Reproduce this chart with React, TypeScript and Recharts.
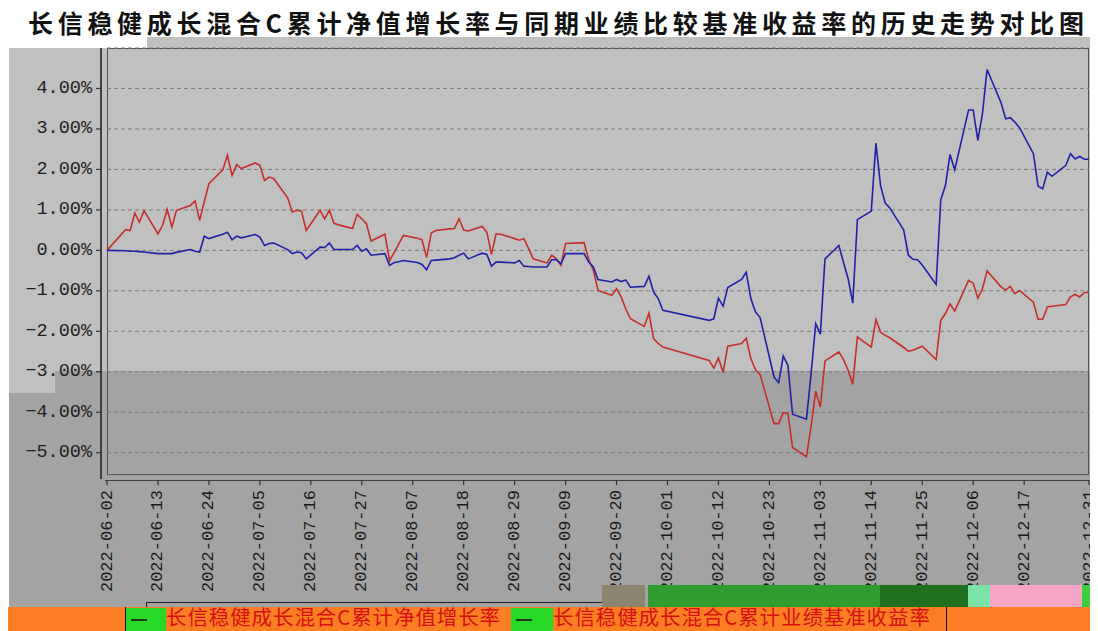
import React from 'react';
import { LineChart, Line, XAxis, YAxis, CartesianGrid } from 'recharts';

const chartTitle = '长信稳健成长混合C累计净值增长率与同期业绩比较基准收益率的历史走势对比图';
const seriesNames = ['长信稳健成长混合C累计净值增长率', '长信稳健成长混合C累计业绩基准收益率'];

const dates = [
  '2022-06-02', '2022-06-06', '2022-06-07', '2022-06-08', '2022-06-09', '2022-06-10',
  '2022-06-13', '2022-06-14', '2022-06-15', '2022-06-16', '2022-06-17',
  '2022-06-20', '2022-06-21', '2022-06-22', '2022-06-23', '2022-06-24',
  '2022-06-27', '2022-06-28', '2022-06-29', '2022-06-30', '2022-07-01',
  '2022-07-04', '2022-07-05', '2022-07-06', '2022-07-07', '2022-07-08',
  '2022-07-11', '2022-07-12', '2022-07-13', '2022-07-14', '2022-07-15',
  '2022-07-18', '2022-07-19', '2022-07-20', '2022-07-21', '2022-07-22',
  '2022-07-25', '2022-07-26', '2022-07-27', '2022-07-28', '2022-07-29',
  '2022-08-01', '2022-08-02', '2022-08-03', '2022-08-04', '2022-08-05',
  '2022-08-08', '2022-08-09', '2022-08-10', '2022-08-11', '2022-08-12',
  '2022-08-15', '2022-08-16', '2022-08-17', '2022-08-18', '2022-08-19',
  '2022-08-22', '2022-08-23', '2022-08-24', '2022-08-25', '2022-08-26',
  '2022-08-29', '2022-08-30', '2022-08-31', '2022-09-01', '2022-09-02',
  '2022-09-05', '2022-09-06', '2022-09-07', '2022-09-08', '2022-09-09',
  '2022-09-13', '2022-09-14', '2022-09-15', '2022-09-16',
  '2022-09-19', '2022-09-20', '2022-09-21', '2022-09-22', '2022-09-23',
  '2022-09-26', '2022-09-27', '2022-09-28', '2022-09-29', '2022-09-30',
  '2022-10-10', '2022-10-11', '2022-10-12', '2022-10-13', '2022-10-14',
  '2022-10-17', '2022-10-18', '2022-10-19', '2022-10-20', '2022-10-21',
  '2022-10-24', '2022-10-25', '2022-10-26', '2022-10-27', '2022-10-28',
  '2022-10-31', '2022-11-01', '2022-11-02', '2022-11-03', '2022-11-04',
  '2022-11-07', '2022-11-08', '2022-11-09', '2022-11-10', '2022-11-11',
  '2022-11-14', '2022-11-15', '2022-11-16', '2022-11-17', '2022-11-18',
  '2022-11-21', '2022-11-22', '2022-11-23', '2022-11-24', '2022-11-25',
  '2022-11-28', '2022-11-29', '2022-11-30', '2022-12-01', '2022-12-02',
  '2022-12-05', '2022-12-06', '2022-12-07', '2022-12-08', '2022-12-09',
  '2022-12-12', '2022-12-13', '2022-12-14', '2022-12-15', '2022-12-16',
  '2022-12-19', '2022-12-20', '2022-12-21', '2022-12-22', '2022-12-23',
  '2022-12-26', '2022-12-27', '2022-12-28', '2022-12-29', '2022-12-30',
  '2022-12-31',
];

// 累计净值增长率 (%)
const navGrowth = [
  0, -0.01, -0.02, -0.02, -0.03, -0.04,
  -0.08, -0.08, -0.08, -0.08, -0.05,
  0.02, -0.02, -0.04, 0.35, 0.29,
  0.40, 0.45, 0.26, 0.35, 0.31,
  0.39, 0.33, 0.12, 0.17, 0.18,
  0.02, -0.08, -0.04, -0.06, -0.21,
  0.08, 0.07, 0.18, 0.02, 0.02,
  0.02, 0.12, -0.02, 0.04, -0.12,
  -0.08, -0.37, -0.30, -0.28, -0.25,
  -0.30, -0.35, -0.48, -0.25, -0.24,
  -0.21, -0.18, -0.12, -0.07, -0.21,
  -0.07, -0.10, -0.39, -0.29, -0.29,
  -0.31, -0.25, -0.39, -0.40, -0.41,
  -0.41, -0.23, -0.23, -0.33, -0.08,
  -0.08, -0.29, -0.41, -0.72,
  -0.78, -0.72, -0.77, -0.73, -0.91,
  -0.89, -0.64, -1.03, -1.19, -1.48,
  -1.73, -1.69, -1.18, -1.38, -0.92,
  -0.72, -0.54, -1.19, -1.52, -1.66,
  -3.13, -3.27, -2.61, -2.84, -4.05,
  -4.17, -3.05, -1.81, -2.07, -0.21,
  0.12, -0.30, -0.70, -1.30, 0.76,
  0.97, 2.65, 1.60, 1.17, 1.05,
  0.50, -0.12, -0.22, -0.23, -0.36,
  -0.84, 1.25, 1.60, 2.37, 1.99,
  3.47, 3.47, 2.72, 3.38, 4.47,
  3.65, 3.25, 3.28, 3.17, 3.03,
  2.39, 1.59, 1.52, 1.93, 1.83,
  2.10, 2.39, 2.26, 2.32, 2.25,
  2.25,
];

// 累计业绩基准收益率 (%)
const benchmarkGrowth = [
  0, 0.51, 0.49, 0.92, 0.70, 0.98,
  0.41, 0.62, 1.01, 0.58, 0.99,
  1.11, 1.22, 0.74, 1.20, 1.65,
  1.99, 2.35, 1.85, 2.12, 2.02,
  2.16, 2.10, 1.73, 1.81, 1.77,
  1.30, 0.95, 0.99, 0.97, 0.49,
  0.99, 0.78, 0.99, 0.67, 0.63,
  0.54, 0.89, 0.78, 0.66, 0.23,
  0.40, -0.26, -0.05, 0.16, 0.37,
  0.30, 0.26, -0.18, 0.43, 0.49,
  0.53, 0.54, 0.78, 0.50, 0.48,
  0.59, 0.45, -0.10, 0.41, 0.40,
  0.29, 0.25, 0.29, 0.05, -0.21,
  -0.31, -0.12, -0.21, -0.37, 0.17,
  0.19, -0.23, -0.49, -0.99,
  -1.11, -0.95, -1.15, -1.45, -1.69,
  -1.88, -1.55, -2.18, -2.30, -2.39,
  -2.72, -2.91, -2.66, -3.02, -2.37,
  -2.30, -2.17, -2.67, -2.95, -3.07,
  -4.28, -4.28, -4.01, -4.03, -4.87,
  -5.10, -4.35, -3.48, -3.87, -2.73,
  -2.51, -2.70, -2.96, -3.31, -2.14,
  -2.39, -1.71, -2.02, -2.10, -2.16,
  -2.40, -2.49, -2.47, -2.42, -2.37,
  -2.70, -1.73, -1.56, -1.32, -1.50,
  -0.74, -0.81, -1.18, -0.95, -0.51,
  -0.90, -0.98, -0.89, -1.07, -0.99,
  -1.28, -1.70, -1.70, -1.40, -1.38,
  -1.34, -1.15, -1.09, -1.15, -1.04,
  -1.04,
];

const xTickLabels = [
  '2022-06-02', '2022-06-13', '2022-06-24', '2022-07-05', '2022-07-16',
  '2022-07-27', '2022-08-07', '2022-08-18', '2022-08-29', '2022-09-09',
  '2022-09-20', '2022-10-01', '2022-10-12', '2022-10-23', '2022-11-03',
  '2022-11-14', '2022-11-25', '2022-12-06', '2022-12-17', '2022-12-31',
];
const yTicks = [-5, -4, -3, -2, -1, 0, 1, 2, 3, 4];
const yDomain = [-5.55, 5];

const DAY_MS = 86400000;
const startMs = Date.parse(dates[0] + 'T00:00:00Z');
const toDay = (s: string) => Math.round((Date.parse(s + 'T00:00:00Z') - startMs) / DAY_MS);

const data = dates.map((d, i) => ({ t: toDay(d), nav: navGrowth[i], bench: benchmarkGrowth[i] }));
const xTicks = xTickLabels.map(toDay);
const labelOf = new Map<number, string>(xTicks.map((t, i) => [t, xTickLabels[i]]));

const fmtPct = (v: number) => (v < 0 ? '\u2212' + Math.abs(v).toFixed(2) : v.toFixed(2)) + '%';

const MONO = '"Liberation Mono", "DejaVu Sans Mono", monospace';
const CJK = '"Noto Sans CJK SC", "Noto Sans", sans-serif';

const XTick = (props: any) => {
  const { x, y, payload } = props;
  const label = labelOf.get(payload.value) ?? '';
  return (
    <g>
      <line x1={x} x2={x} y1={y + 5} y2={y + 10} stroke="#333" strokeWidth={1.2} />
      <text
        x={x}
        y={y + 15}
        transform={`rotate(-90 ${x} ${y + 15})`}
        textAnchor="end"
        dominantBaseline="central"
        fontSize={17}
        fontFamily={MONO}
        fill="#1a1a1a"
      >
        {label}
      </text>
    </g>
  );
};

const YTick = (props: any) => {
  const { x, y, payload } = props;
  return (
    <g>
      <line x1={x - 11} x2={x - 6} y1={y} y2={y} stroke="#333" strokeWidth={1.2} />
      <text
        x={x - 15}
        y={y}
        textAnchor="end"
        dominantBaseline="central"
        fontSize={18.5}
        fontFamily={MONO}
        fill="#1f1f1f"
      >
        {fmtPct(payload.value)}
      </text>
    </g>
  );
};

const abs = (left: number, top: number, width: number, height: number, extra: React.CSSProperties = {}): React.CSSProperties => ({
  position: 'absolute', left, top, width, height, ...extra,
});

const LIGHT = '#c0c0c0';
const DARK = '#a3a3a3';

const legendText: React.CSSProperties = {
  position: 'absolute', top: 593, height: 30, lineHeight: '30px',
  fontFamily: CJK, fontSize: 20.5, letterSpacing: 0.9, color: '#d81010', whiteSpace: 'nowrap',
};

export default function App() {
  return (
    <div style={{ position: 'relative', width: 1090, height: 623, background: '#fff' }}>
      {/* backgrounds */}
      <div style={abs(1, 40, 1089, 583, { background: LIGHT })} />
      <div style={abs(139, 29, 951, 11, { background: LIGHT })} />
      <div style={abs(47, 363, 1043, 236, { background: DARK })} />
      <div style={abs(1, 385, 46, 214, { background: DARK })} />

      {/* title */}
      <div
        style={{
          position: 'absolute', left: 20, top: -4, height: 36, lineHeight: '36px',
          fontFamily: CJK, fontWeight: 700, fontSize: 25, letterSpacing: 4.7, color: '#111',
          whiteSpace: 'nowrap',
        }}
      >
        {chartTitle}
      </div>

      {/* axis frame pieces */}
      <div style={abs(99, 40, 982, 427, { border: '1px solid #505050', boxSizing: 'border-box' })} />
      <div style={abs(92, 40, 1.6, 431, { background: '#404040' })} />
      <div style={abs(97, 472, 985, 1.4, { background: '#404040' })} />

      <div style={{ position: 'absolute', left: 0, top: 0 }}>
        <LineChart width={1090} height={623} data={data} margin={{ top: 40, right: 9, bottom: 6, left: 0 }}>
          <CartesianGrid horizontal vertical={false} stroke="#7c7c7c" strokeDasharray="4 3" />
          <XAxis
            dataKey="t"
            type="number"
            domain={[0, xTicks[xTicks.length - 1]]}
            ticks={xTicks}
            interval={0}
            height={150}
            axisLine={false}
            tickLine={false}
            tickSize={0}
            tickMargin={0}
            tick={<XTick />}
          />
          <YAxis
            type="number"
            domain={yDomain}
            ticks={yTicks}
            interval={0}
            width={99}
            allowDataOverflow
            axisLine={false}
            tickLine={false}
            tickSize={0}
            tickMargin={0}
            tick={<YTick />}
          />
          <Line type="linear" dataKey="bench" stroke="#c52f2b" strokeWidth={1.6} dot={false} isAnimationActive={false} />
          <Line type="linear" dataKey="nav" stroke="#2121a8" strokeWidth={1.6} dot={false} isAnimationActive={false} />
        </LineChart>
      </div>

      {/* glitch band above legend */}
      <div style={abs(594, 577, 43, 22, { background: '#8c8670' })} />
      <div style={abs(640, 577, 232, 22, { background: '#2f9c2f' })} />
      <div style={abs(872, 577, 88, 22, { background: '#1f6f1f' })} />
      <div style={abs(960, 577, 22, 22, { background: '#7be3a8' })} />
      <div style={abs(982, 577, 92, 22, { background: '#f4a6c4' })} />
      <div style={abs(1074, 577, 16, 22, { background: '#3bd03b' })} />

      {/* legend */}
      <div style={abs(0, 599, 1090, 24, { background: '#fb7f22' })} />
      <div style={abs(138, 594, 456, 1, { background: '#222' })} />
      <div style={abs(138, 594, 1, 5, { background: '#222' })} />
      <div style={abs(117, 599, 1, 24, { background: '#111' })} />
      <div style={abs(938, 599, 1, 24, { background: '#111' })} />
      <div style={abs(118, 600, 40, 23, { background: '#27d827' })} />
      <div style={abs(123, 611, 16, 2, { background: '#203a20' })} />
      <div style={abs(503, 600, 42, 23, { background: '#27d827' })} />
      <div style={abs(508, 611, 16, 2, { background: '#203a20' })} />
      <div style={{ ...legendText, left: 158 }}>{seriesNames[0]}</div>
      <div style={{ ...legendText, left: 545 }}>{seriesNames[1]}</div>
    </div>
  );
}
